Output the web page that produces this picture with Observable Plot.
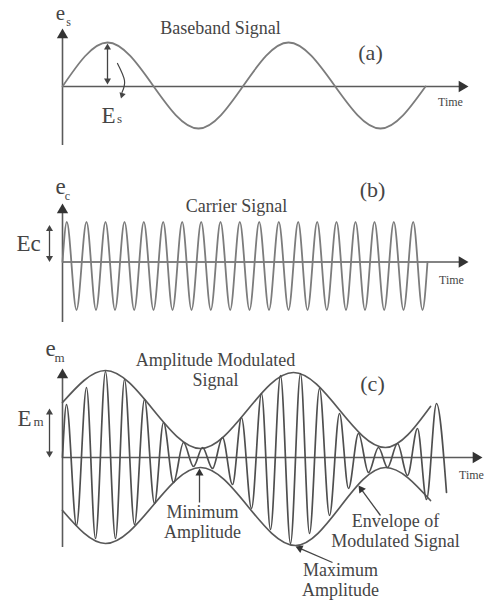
<!DOCTYPE html>
<html><head><meta charset="utf-8">
<script src="https://cdn.jsdelivr.net/npm/d3@7"></script>
<script src="https://cdn.jsdelivr.net/npm/@observablehq/plot@0.6"></script>
<style>
body{margin:0;background:#fff;}
#chart{position:relative;width:487px;height:601px;overflow:hidden;}
#chart > div{position:absolute;left:0;}
</style></head><body><div id="chart"></div>
<script>
// ---- data (time offset from the y-axis, signal value) ----
const basebandT = [0, 45, 136, 226, 318, 363];
const basebandE = [0, 44, -42, 44, -42, 0];

const carrierT = [0, 4.3, 14, 24, 33.5, 43, 52.5, 62, 71.7, 81.3, 91, 100.7, 110, 119.7, 129, 138.7, 148.3, 158, 167.7, 177.3, 187, 196.7, 206.5, 216.3, 226, 235.7, 245, 254.7, 264.3, 274, 283.5, 293, 302.5, 312, 321.7, 331.3, 341, 350.7, 360, 365];
const carrierE = [0, 40, -48, 40, -48, 40, -48, 40, -48, 40, -48, 40, -48, 40, -48, 40, -48, 40, -48, 40, -48, 40, -48, 40, -48, 40, -48, 40, -48, 40, -48, 40, -48, 40, -48, 40, -48, 40, -48, 0];

const modT = [0, 4, 14, 24, 33, 43, 53, 62, 72, 82, 92, 101, 111, 121, 131, 140, 150, 160, 170, 179, 189, 199, 208, 218, 228, 238, 247, 257, 267, 277, 286, 296, 306, 316, 325, 335, 345, 355, 364, 374, 384];
const modE = [0, 53, -68, 70, -81, 86, -81, 78, -67, 58, -46, 35, -25, 15, -9, 10, -11, 20, -27, 40, -51, 64, -72, 82, -86, 84, -76, 69, -58, 44, -31, 24, -15, 10, -10, 14, -18, 29, -42, 54, -35];

const envUpperT = [0, 43, 138, 231, 323, 368];
const envUpperE = [55, 87, 9, 85, 10, 51];
const envLowerT = [0, 43, 138, 233, 323, 368];
const envLowerE = [-53, -86, -10, -88, -10, -43];

// ---- text ----
const titles = ["Baseband Signal", "Carrier Signal", "Amplitude Modulated\nSignal"];
const panelTags = ["(a)", "(b)", "(c)"];
const axisSymbol = "e";
const axisSubs = ["s", "c", "m"];
const ampLabels = ["E", "Ec", "E"];
const ampSubs = ["s", "", "m"];
const timeLabel = "Time";
const callouts = ["Minimum\nAmplitude", "Envelope of\nModulated Signal", "Maximum\nAmplitude"];

// ---- helpers ----
const pts = (T, E) => T.map((t, i) => ({t, e: E[i]}));
const SERIF = "Liberation Serif";
const TXT = "#454545";
const AX = "#5a5a5a";
const HEAD = "#333";

// filled triangular head at a tip, pointing along (dt, de)
function heads(list, r, fill = HEAD) {
  const A = Math.PI * r * r;
  const off = 2 * Math.sqrt(A / (3 * Math.sqrt(3)));
  const rows = list.map(([t, e, dt, de]) => {
    const L = Math.hypot(dt, de);
    return {t: t - dt / L * off, e: e - de / L * off, rot: Math.atan2(dt, de) * 180 / Math.PI};
  });
  return Plot.dot(rows, {x: "t", y: "e", rotate: "rot", symbol: "triangle", r, fill, stroke: "none"});
}
function txt(label, t, e, size, extra = {}) {
  return Plot.text([label], {x: () => t, y: () => e, text: d => d, fontFamily: SERIF, fontSize: size, fill: TXT, lineAnchor: "bottom", textAnchor: "middle", ...extra});
}
function axes(bottom, top, right) {
  return [
    Plot.ruleX([0], {y1: bottom, y2: top - 6, stroke: AX, strokeWidth: 1.6}),
    Plot.ruleY([0], {x1: 0, x2: right - 6, stroke: AX, strokeWidth: 1.6}),
    heads([[0, top, 0, 1], [right, 0, 1, 0]], 4.2)
  ];
}
function dbl(t, e1, e2) {
  return [
    Plot.ruleX([t], {y1: e1 + 3, y2: e2 - 3, stroke: "#444", strokeWidth: 1.3}),
    heads([[t, e2, 0, 1], [t, e1, 0, -1]], 2.6, "#444")
  ];
}
function callout(t1, e1, t2, e2) {
  return [
    Plot.link([0], {x1: () => t1, y1: () => e1, x2: () => t2 - (t2 - t1) * 6 / Math.hypot(t2 - t1, e2 - e1), y2: () => e2 - (e2 - e1) * 6 / Math.hypot(t2 - t1, e2 - e1), stroke: "#444", strokeWidth: 1.3}),
    heads([[t2, e2, t2 - t1, e2 - e1]], 3, "#333")
  ];
}
function panel(top, h, axisPx, marks) {
  const svg = Plot.plot({
    width: 487, height: h, margin: 0,
    x: {domain: [-62, 425], range: [0, 487], axis: null},
    y: {domain: [axisPx, axisPx - h], range: [0, h], axis: null},
    style: {background: "transparent", overflow: "visible"},
    marks
  });
  const wrap = document.createElement("div");
  wrap.style.top = top + "px";
  wrap.appendChild(svg);
  document.getElementById("chart").appendChild(wrap);
}

// ---- (a) baseband ----
panel(0, 170, 86, [
  ...axes(-59, 58, 406),
  Plot.line(pts(basebandT, basebandE), {x: "t", y: "e", curve: "monotone-x", stroke: "#7c7c7c", strokeWidth: 1.8}),
  ...dbl(45, 2, 43),
  Plot.line([{t: 55, e: 23}, {t: 62, e: 6}, {t: 59.5, e: -6}], {x: "t", y: "e", curve: "natural", stroke: "#444", strokeWidth: 1.2}),
  heads([[58.5, -12, -0.3, -1]], 2.4, "#444"),
  txt(titles[0], 158, 53, 18),
  txt(panelTags[0], 308, 27, 22),
  txt(axisSymbol, -2, 67, 21),
  txt(axisSubs[0], 6, 61, 12),
  txt(ampLabels[0], 46, -36, 23),
  txt(ampSubs[0], 57, -36, 13),
  txt(timeLabel, 388, -19, 12)
]);

// ---- (b) carrier ----
panel(170, 165, 91.5, [
  ...axes(-60.5, 58.5, 406),
  Plot.line(pts(carrierT, carrierE), {x: "t", y: "e", curve: "monotone-x", stroke: "#7c7c7c", strokeWidth: 1.8}),
  ...dbl(-13, 0, 37),
  txt(titles[1], 174, 50.5, 18),
  txt(panelTags[1], 310, 65.5, 22),
  txt(axisSymbol, -2, 68.5, 23),
  txt(axisSubs[1], 5, 62.5, 12),
  txt(ampLabels[1], -34, 11.5, 23),
  txt(timeLabel, 389, -21.5, 12)
]);

// ---- (c) modulated ----
panel(335, 266, 122, [
  ...axes(-90, 89, 420),
  Plot.line(pts(envUpperT, envUpperE), {x: "t", y: "e", curve: "monotone-x", stroke: "#585858", strokeWidth: 1.7}),
  Plot.line(pts(envLowerT, envLowerE), {x: "t", y: "e", curve: "monotone-x", stroke: "#585858", strokeWidth: 1.7}),
  Plot.line(pts(modT, modE), {x: "t", y: "e", curve: "monotone-x", stroke: "#4f4f4f", strokeWidth: 1.7}),
  ...dbl(-13, 0, 49),
  ...callout(137, -45, 137, -11),
  ...callout(318, -58, 296, -28),
  ...callout(270, -105, 233, -89),
  txt(titles[2], 153, 72, 18, {lineHeight: 1.06}),
  txt(panelTags[2], 310, 67, 22),
  txt(axisSymbol, -12, 102, 23),
  txt(axisSubs[2], -3, 96, 13),
  txt(ampLabels[2], -38, 32, 23),
  txt(ampSubs[2], -24, 32, 13),
  txt(callouts[0], 140, -80, 18, {lineHeight: 1.11}),
  txt(callouts[1], 333, -89, 18, {lineHeight: 1.11}),
  txt(callouts[2], 278, -138, 18, {lineHeight: 1.11}),
  txt(timeLabel, 409, -21, 12)
]);
</script>
</body></html>
